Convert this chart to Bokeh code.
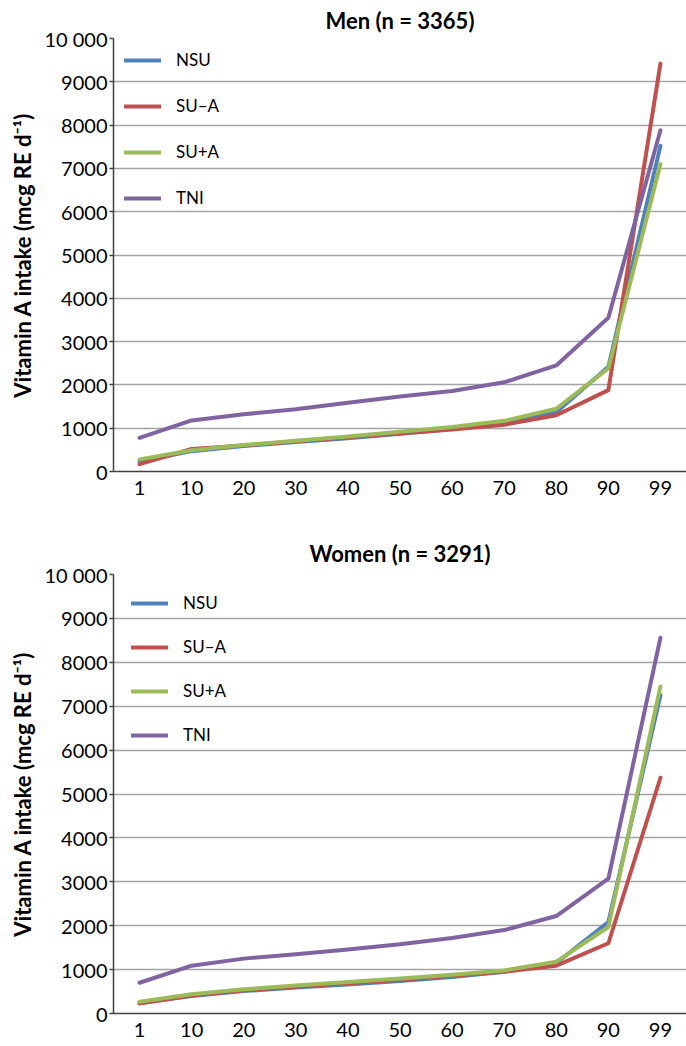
from bokeh.plotting import figure
from bokeh.layouts import column
from bokeh.models import FactorRange, Range1d, FixedTicker, Legend, LegendItem
from bokeh.embed import file_html
from bokeh.resources import INLINE

# ---------------- data ----------------
percentiles = ["1", "10", "20", "30", "40", "50", "60", "70", "80", "90", "99"]
series_names = ["NSU", "SU\u2013A", "SU+A", "TNI"]
series_colors = ["#4F81BD", "#C0504D", "#9BBB59", "#8064A2"]

men_nsu = [230, 470, 590, 680, 770, 870, 980, 1120, 1370, 2420, 7520]
men_su_minus_a = [170, 520, 600, 700, 790, 880, 970, 1080, 1300, 1880, 9420]
men_su_plus_a = [280, 490, 610, 710, 810, 920, 1030, 1170, 1450, 2380, 7100]
men_tni = [775, 1180, 1320, 1440, 1590, 1730, 1860, 2060, 2450, 3550, 7880]

women_nsu = [240, 400, 510, 590, 660, 740, 830, 950, 1150, 2080, 7250]
women_su_minus_a = [230, 410, 530, 610, 690, 770, 860, 950, 1090, 1600, 5370]
women_su_plus_a = [270, 440, 550, 640, 720, 800, 880, 980, 1180, 1970, 7450]
women_tni = [700, 1090, 1250, 1350, 1460, 1580, 1720, 1900, 2220, 3070, 8560]

y_ticks = [0, 1000, 2000, 3000, 4000, 5000, 6000, 7000, 8000, 9000, 10000]
y_tick_overrides = {10000: "10 000"}

y_label = "Vitamin A intake (mcg RE d\u207b\u00b9)"
FONT = "Lato"


def make_chart(title, series, height, border_top, border_bottom, legend_margin,
               legend_spacing, title_standoff, title_valign):
    p = figure(
        width=686, height=height,
        x_range=FactorRange(*percentiles),
        y_range=Range1d(0, 10000),
        output_backend="svg", toolbar_location=None,
        min_border_left=113, min_border_right=0,
        min_border_top=border_top, min_border_bottom=border_bottom,
        title=title,
    )
    p.outline_line_color = None
    p.background_fill_color = "white"
    p.border_fill_color = "white"

    p.title.align = "center"
    p.title.vertical_align = title_valign
    p.title.text_font = FONT
    p.title.text_font_size = "22px"
    p.title.text_font_style = "bold"
    p.title.text_color = "#000000"
    p.title.standoff = title_standoff

    p.xgrid.grid_line_color = None
    p.ygrid.grid_line_color = "#a3a3a3"
    p.ygrid.grid_line_width = 1.5

    p.yaxis.ticker = FixedTicker(ticks=y_ticks)
    p.yaxis.major_label_overrides = y_tick_overrides
    p.yaxis.axis_label = y_label
    p.yaxis.axis_label_text_font = FONT
    p.yaxis.axis_label_text_font_size = "22px"
    p.yaxis.axis_label_text_font_style = "bold"
    p.yaxis.axis_label_text_color = "#000000"
    p.yaxis.axis_label_standoff = 5

    for ax in (p.xaxis[0], p.yaxis[0]):
        ax.minor_tick_line_color = None
        ax.axis_line_color = "#404040"
        ax.axis_line_width = 1.5
        ax.major_label_text_font = FONT
        ax.major_label_text_font_size = "20px"
        ax.major_label_text_color = "#000000"
    p.xaxis.major_tick_line_color = None
    p.xaxis.major_label_standoff = 3
    p.yaxis.major_tick_line_color = "#404040"
    p.yaxis.major_tick_line_width = 1.5
    p.yaxis.major_tick_in = 0
    p.yaxis.major_tick_out = 4
    p.yaxis.major_label_standoff = 2

    items = []
    for name, color, vals in zip(series_names, series_colors, series):
        r = p.line(x=percentiles, y=vals, line_color=color, line_width=4,
                   line_join="round", line_cap="round")
        items.append(LegendItem(label=name, renderers=[r]))

    legend = Legend(items=items, location="top_left")
    legend.label_text_font = FONT
    legend.label_text_font_size = "17px"
    legend.label_text_color = "#000000"
    legend.glyph_width = 37
    legend.glyph_height = 20
    legend.label_height = 20
    legend.spacing = legend_spacing
    legend.label_standoff = 15
    legend.margin = legend_margin
    legend.padding = 0
    legend.background_fill_alpha = 0
    legend.border_line_alpha = 0
    p.add_layout(legend)
    return p


p1 = make_chart("Men (n = 3365)",
                [men_nsu, men_su_minus_a, men_su_plus_a, men_tni],
                height=520, border_top=37, border_bottom=49,
                legend_margin=11, legend_spacing=25, title_standoff=9,
                title_valign="bottom")
p2 = make_chart("Women (n = 3291)",
                [women_nsu, women_su_minus_a, women_su_plus_a, women_tni],
                height=525, border_top=54, border_bottom=32,
                legend_margin=18, legend_spacing=23, title_standoff=15,
                title_valign="bottom")

p = column(p1, p2, spacing=0)

open("out.html", "w").write(file_html(p, INLINE))
